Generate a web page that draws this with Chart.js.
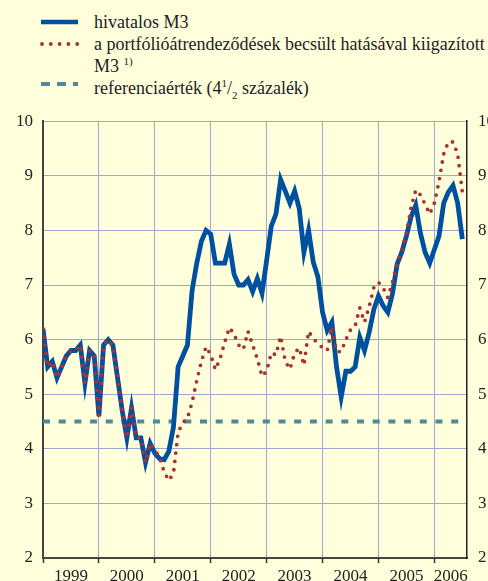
<!DOCTYPE html>
<html>
<head>
<meta charset="utf-8">
<script src="https://cdn.jsdelivr.net/npm/chart.js@4"></script>
<style>
  html, body { margin: 0; padding: 0; background: #ffffdc; width: 488px; height: 581px; overflow: hidden; }
  body { position: relative; font-family: 'Liberation Serif', 'Times New Roman', serif; color: #222; }
  #jelmagyarazat { position: absolute; left: 94px; top: 11px; font-size: 18px; line-height: 22px; white-space: nowrap; }
  #jelek { position: absolute; left: 0; top: 0; }
  sup, sub { font-size: 11px; line-height: 0; }
  #doboz { position: absolute; left: 0; top: 100px; }
</style>
</head>
<body>
<svg id="jelek" width="90" height="100">
  <line x1="41" y1="22" x2="78" y2="22" stroke="#0050a0" stroke-width="4.5"/>
  <line x1="42" y1="44" x2="78" y2="44" stroke="#a83232" stroke-width="3.8" stroke-linecap="round" stroke-dasharray="0 8.8"/>
  <line x1="41" y1="84" x2="78" y2="84" stroke="#4f8a96" stroke-width="4" stroke-dasharray="9 7"/>
</svg>
<div id="jelmagyarazat">
  <div>hivatalos M3</div>
  <div>a portfólióátrendeződések becsült hatásával kiigazított</div>
  <div>M3 <sup>1)</sup></div>
  <div>referenciaérték (4<sup>1</sup>/<sub>2</sub> százalék)</div>
</div>
<div id="doboz"><canvas id="grafico" width="510" height="500"></canvas></div>
<script>
// évek (a tengely feliratai), havi adatok 1999 januártól 2006 júliusig
const years = ['1999', '2000', '2001', '2002', '2003', '2004', '2005', '2006']
const hivatalosM3 = [
  6.2, 5.5, 5.6, 5.3, 5.5, 5.7, 5.8, 5.8, 5.9, 5.2, 5.8, 5.7,
  4.6, 5.9, 6.0, 5.9, 5.3, 4.7, 4.2, 4.75, 4.2, 4.2, 3.75, 4.1,
  3.92, 3.82, 3.8, 3.95, 4.4, 5.5, 5.7, 5.9, 6.9, 7.4, 7.8, 8.0,
  7.93, 7.4, 7.4, 7.4, 7.75, 7.2, 7.0, 7.0, 7.1, 6.88, 7.12, 6.85,
  7.45, 8.08, 8.3, 8.93, 8.72, 8.5, 8.72, 8.4, 7.6, 8.0, 7.42, 7.15,
  6.5, 6.17, 6.32, 5.5, 4.95, 5.42, 5.42, 5.5, 6.04, 5.8, 6.13, 6.55,
  6.8, 6.62, 6.5, 6.84, 7.38, 7.6, 7.9, 8.25, 8.46, 7.95, 7.6, 7.4,
  7.65, 7.9, 8.5, 8.7, 8.82, 8.5, 7.84
]
const kiigazitottM3 = [
  6.2, 5.5, 5.6, 5.3, 5.5, 5.7, 5.8, 5.8, 5.9, 5.2, 5.8, 5.7,
  4.6, 5.9, 6.0, 5.9, 5.3, 4.7, 4.2, 4.75, 4.2, 4.2, 3.75, 4.1,
  3.98, 3.85, 3.58, 3.42, 3.55, 4.3, 4.48, 4.56, 4.85, 5.25, 5.6, 5.87,
  5.72, 5.45, 5.65, 5.95, 6.22, 6.1, 5.9, 5.82, 6.15, 5.9, 5.65, 5.33,
  5.42, 5.76, 5.72, 6.06, 5.6, 5.46, 5.75, 5.85, 5.53, 6.15, 6.02, 5.93,
  5.85, 5.8, 6.23, 5.78, 5.78, 6.0, 6.18, 6.25, 6.58, 6.32, 6.6, 6.95,
  7.05, 6.95, 6.77, 7.05, 7.38, 7.63, 7.95, 8.42, 8.74, 8.65, 8.48, 8.3,
  8.5, 8.9, 9.4, 9.62, 9.62, 9.4, 8.7
]
const referencia = 4.5
const yTicks = [2, 3, 4, 5, 6, 7, 8, 9, 10]

const xMax = 91
const gridColor = '#9ca7d6'
const betu = { family: "'Liberation Serif', 'Times New Roman', serif", size: 17 }

const pontok = arr => arr.map((v, i) => ({ x: i, y: v }))
const evKozep = i => i < years.length - 1 ? i * 12 + 6 : (i * 12 + xMax) / 2

const grafico = document.getElementById('grafico').getContext('2d')

const meuGrafico = new Chart(grafico, {
  type: 'line',
  data: {
    datasets: [
      {
        label: 'a portfólióátrendeződések becsült hatásával kiigazított M3',
        data: pontok(kiigazitottM3),
        borderColor: '#a83232',
        borderWidth: 3.8,
        borderDash: [0, 8.4],
        borderCapStyle: 'round',
        pointRadius: 0,
        order: 0
      },
      {
        label: 'hivatalos M3',
        data: pontok(hivatalosM3),
        borderColor: '#0050a0',
        borderWidth: 4.8,
        borderJoinStyle: 'miter',
        pointRadius: 0,
        order: 1
      },
      {
        label: 'referenciaérték',
        data: [{ x: 0, y: referencia }, { x: xMax, y: referencia }],
        borderColor: '#4f8a96',
        borderWidth: 4,
        borderDash: [7, 8.7],
        pointRadius: 0,
        order: 2
      }
    ]
  },
  options: {
    responsive: false,
    animation: false,
    layout: { padding: { top: 19, left: 0, right: 0, bottom: 0 } },
    plugins: { legend: { display: false }, tooltip: { enabled: false } },
    scales: {
      x: {
        type: 'linear',
        min: 0,
        max: xMax,
        afterBuildTicks: s => {
          const t = []
          years.forEach((y, i) => { t.push({ value: i * 12 }); t.push({ value: evKozep(i) }) })
          s.ticks = t
        },
        afterFit: s => { s.height = 42 },
        ticks: {
          autoSkip: false,
          maxRotation: 0,
          minRotation: 0,
          padding: 3,
          color: '#222',
          font: betu,
          callback: v => {
            const i = years.findIndex((y, k) => evKozep(k) === v)
            return i >= 0 ? years[i] : ''
          }
        },
        grid: {
          color: c => c.tick && c.tick.value % 12 === 0 ? gridColor : 'rgba(0,0,0,0)',
          tickColor: c => c.tick && c.tick.value % 12 === 0 ? '#333' : 'rgba(0,0,0,0)',
          tickLength: 5,
          tickWidth: 1.5,
          lineWidth: 1
        },
        border: { color: '#444', width: 2 }
      },
      y: {
        position: 'left',
        min: 2,
        max: 10,
        afterBuildTicks: s => { s.ticks = yTicks.map(v => ({ value: v })) },
        afterFit: s => { s.width = 43 },
        ticks: { padding: 10, color: '#222', font: betu },
        grid: { color: gridColor, drawTicks: false, lineWidth: 1 },
        border: { color: '#444', width: 2 }
      },
      y2: {
        position: 'right',
        min: 2,
        max: 10,
        afterBuildTicks: s => { s.ticks = yTicks.map(v => ({ value: v })) },
        afterFit: s => { s.width = 43 },
        ticks: { padding: 11, color: '#222', font: betu },
        grid: { display: false, drawTicks: false },
        border: { color: '#222', width: 1.5 }
      }
    }
  }
})
</script>
</body>
</html>
